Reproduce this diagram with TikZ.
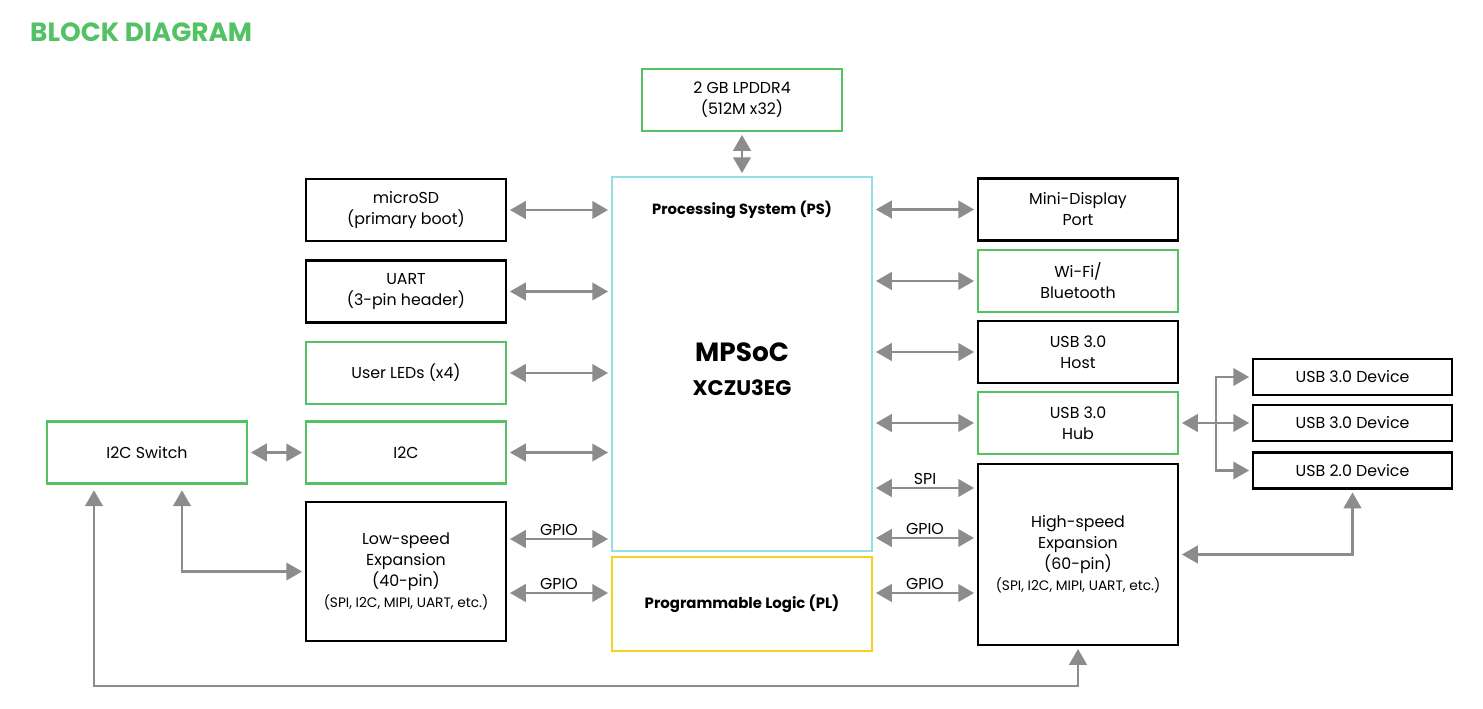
\documentclass[tikz,border=0pt]{standalone}
\usepackage{fontspec}
\setmainfont{Poppins}
\usetikzlibrary{arrows.meta,positioning}

\definecolor{bdgreen}{HTML}{52C265}
\definecolor{bdcyan}{HTML}{94DDE5}
\definecolor{bdyellow}{HTML}{F7CF22}
\definecolor{bdgray}{HTML}{8C8C8C}

\tikzset{
  box/.style={draw=black, line width=1.3pt, minimum width=4cm, minimum height=1.24cm,
    align=center, inner sep=0pt, font=\fontsize{9}{12}\selectfont},
  gbox/.style={box, draw=bdgreen},
  devbox/.style={box, minimum width=3.98cm, minimum height=0.72cm},
  link/.style={draw=bdgray, line width=1.3pt, {Triangle[length=9pt,width=10pt]}-{Triangle[length=9pt,width=10pt]},
    shorten <=1.6pt, shorten >=1.6pt},
  onelink/.style={draw=bdgray, line width=1.3pt, -{Triangle[length=9pt,width=10pt]}, shorten >=1.6pt},
  tag/.style={font=\fontsize{9}{11}\selectfont, inner sep=1.5pt}
}

\begin{document}
\begin{tikzpicture}[x=0.02cm,y=-0.02cm]
  \useasboundingbox (0,0) rectangle (1483,709);

  \node[anchor=west, text=bdgreen, font=\bfseries\fontsize{15}{18}\selectfont] (title) at (24,32) {BLOCK DIAGRAM};

  % SoC
  \node[draw=bdcyan, line width=1.3pt, minimum width=5.2cm, minimum height=7.48cm] (ps) at (742,364) {};
  \node[font=\bfseries\fontsize{8.4}{11}\selectfont] (pstxt) at (742,210) {Processing System (PS)};
  \node[font=\bfseries\fontsize{15}{18}\selectfont] (mpsoc) at (742,352) {MPSoC};
  \node[font=\bfseries\fontsize{12}{14}\selectfont] (chip) at (742,388) {XCZU3EG};
  \node[box, draw=bdyellow, minimum width=5.2cm, minimum height=1.88cm,
    font=\bfseries\fontsize{8.5}{11}\selectfont] (pl) at (742,604) {Programmable Logic (PL)};
  \node[gbox] (ddr) at (742,100) {2 GB LPDDR4\\(512M x32)};

  % left side
  \node[box] (sd) at (406,210) {microSD\\(primary boot)};
  \node[box] (uart) at (406,291.5) {UART\\(3-pin header)};
  \node[gbox] (led) at (406,373) {User LEDs (x4)};
  \node[gbox] (i2c) at (406,452.5) {I2C};
  \node[box, minimum height=2.78cm] (ls) at (406,571.5)
    {Low-speed\\Expansion\\(40-pin)\\{\fontsize{7.8}{9}\selectfont (SPI, I2C, MIPI, UART, etc.)}};
  \node[gbox] (sw) at (147,452.5) {I2C Switch};

  % right side
  \node[box] (disp) at (1078,209.5) {Mini-Display\\Port};
  \node[gbox] (wifi) at (1078,281) {Wi-Fi/\\Bluetooth};
  \node[box] (host) at (1078,352) {USB 3.0\\Host};
  \node[gbox] (hub) at (1078,423) {USB 3.0\\Hub};
  \node[box, minimum height=3.62cm] (hs) at (1078,554.5)
    {High-speed\\Expansion\\(60-pin)\\{\fontsize{7.8}{9}\selectfont (SPI, I2C, MIPI, UART, etc.)}};
  \node[devbox] (dev1) at (1352.5,377) {USB 3.0 Device};
  \node[devbox] (dev2) at (1352.5,423) {USB 3.0 Device};
  \node[devbox] (dev3) at (1352.5,470.5) {USB 2.0 Device};

  % links
  \draw[link] (ddr) -- (ps);
  \foreach \n in {sd,uart,led,i2c}
    \draw[link] (\n.east) -- (\n.east -| ps.west);
  \draw[link] (ls.east |- 0,539) -- (ps.west |- 0,539) node[tag, midway, above] {GPIO};
  \draw[link] (ls.east |- 0,593) -- (pl.west |- 0,593) node[tag, midway, above] {GPIO};
  \draw[link] (sw) -- (i2c);

  \foreach \n in {disp,wifi,host,hub}
    \draw[link] (ps.east |- \n.west) -- (\n.west);
  \draw[link] (ps.east |- 0,488) -- (hs.west |- 0,488) node[tag, midway, above] {SPI};
  \draw[link] (ps.east |- 0,538) -- (hs.west |- 0,538) node[tag, midway, above] {GPIO};
  \draw[link] (pl.east |- 0,593) -- (hs.west |- 0,593) node[tag, midway, above] {GPIO};

  \coordinate (fork) at (1216,423);
  \draw[link] (hub.east) -- (dev2.west);
  \draw[onelink] (fork) |- (dev1.west);
  \draw[onelink] (fork) |- (dev3.west);
  \draw[link] (hs.east) -| (dev3.south);

  \draw[link, shorten <=3.2pt] (sw.south -| 182,0) |- (ls.west);
  \coordinate (low) at (94,686);
  \draw[link, shorten <=3.2pt] (sw.south -| low) -- (low) -| (hs.south);
\end{tikzpicture}
\end{document}
